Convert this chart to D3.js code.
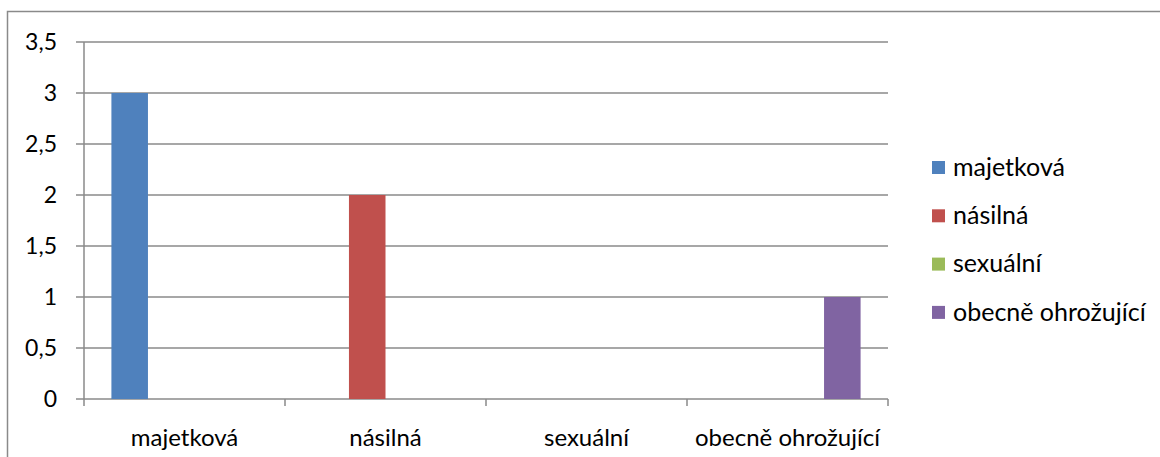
<!DOCTYPE html>
<html>
<head>
<meta charset="utf-8">
<script src="https://cdn.jsdelivr.net/npm/d3@7"></script>
<style>
  html, body { margin: 0; padding: 0; background: #fff; }
  svg { display: block; }
  text { font-family: Lato, "Open Sans", sans-serif; fill: #000; }
</style>
</head>
<body>
<div id="chart"></div>
<script>
// categories on the x axis
const categories = ["majetková", "násilná", "sexuální", "obecně ohrožující"];
// one series per category, only the matching one has a value
const seriesNames = ["majetková", "násilná", "sexuální", "obecně ohrožující"];
const majetkova = [3, 0, 0, 0];
const nasilna = [0, 2, 0, 0];
const sexualni = [0, 0, 0, 0];
const obecne = [0, 0, 0, 1];
const yTicks = [0, 0.5, 1, 1.5, 2, 2.5, 3, 3.5];
const colors = ["#4F81BD", "#C0504D", "#9BBB59", "#8064A2"];

const seriesValues = [majetkova, nasilna, sexualni, obecne];

const width = 1160;
const height = 457;
const margin = { top: 42, right: 272, bottom: 58, left: 84 };
const gridColor = "#8a8a8a";

const svg = d3.select("#chart")
  .append("svg")
  .attr("width", width)
  .attr("height", height);

// outer chart border (right and bottom edges fall outside the picture)
svg.append("rect")
  .attr("x", 7.5)
  .attr("y", 11.5)
  .attr("width", width + 20)
  .attr("height", height + 20)
  .attr("fill", "none")
  .attr("stroke", gridColor)
  .attr("stroke-width", 1.5);

const x0 = d3.scaleBand()
  .domain(categories)
  .range([margin.left, width - margin.right])
  .paddingInner(0)
  .paddingOuter(0);

// Excel style gap width 150%: 0.75 of a bar on each side
const x1 = d3.scaleBand()
  .domain(seriesNames)
  .range([0, x0.bandwidth()])
  .paddingInner(0)
  .paddingOuter(0.75);

const y = d3.scaleLinear()
  .domain([0, 3.5])
  .range([height - margin.bottom, margin.top]);

const fmt = d => String(d).replace(".", ",");

// gridlines
svg.append("g")
  .selectAll("line")
  .data(yTicks)
  .join("line")
  .attr("x1", margin.left - 8)
  .attr("x2", width - margin.right)
  .attr("y1", d => y(d))
  .attr("y2", d => y(d))
  .attr("stroke", gridColor)
  .attr("stroke-width", 1.5);

// y axis line
svg.append("line")
  .attr("x1", margin.left)
  .attr("x2", margin.left)
  .attr("y1", y(3.5))
  .attr("y2", y(0) + 7)
  .attr("stroke", gridColor)
  .attr("stroke-width", 1.5);

// y tick labels
svg.append("g")
  .selectAll("text")
  .data(yTicks)
  .join("text")
  .attr("x", margin.left - 27)
  .attr("y", d => y(d))
  .attr("dy", "0.35em")
  .attr("text-anchor", "end")
  .style("font-size", "23px")
  .text(fmt);

// category tick marks
svg.append("g")
  .selectAll("line")
  .data(categories.slice(1).concat(["end"]))
  .join("line")
  .attr("x1", (d, i) => x0(categories[0]) + x0.step() * (i + 1))
  .attr("x2", (d, i) => x0(categories[0]) + x0.step() * (i + 1))
  .attr("y1", y(0))
  .attr("y2", y(0) + 7)
  .attr("stroke", gridColor)
  .attr("stroke-width", 1.5);

// bars
const groups = svg.append("g")
  .selectAll("g")
  .data(categories)
  .join("g")
  .attr("transform", d => `translate(${x0(d)},0)`);

groups.selectAll("rect")
  .data((d, ci) => seriesNames.map((s, si) => ({ s, si, v: seriesValues[si][ci] })))
  .join("rect")
  .attr("x", d => x1(d.s))
  .attr("width", x1.bandwidth())
  .attr("y", d => y(d.v))
  .attr("height", d => y(0) - y(d.v))
  .attr("fill", d => colors[d.si]);

// x labels
svg.append("g")
  .selectAll("text")
  .data(categories)
  .join("text")
  .attr("x", d => x0(d) + x0.bandwidth() / 2)
  .attr("y", 438)
  .attr("dy", "0.35em")
  .attr("text-anchor", "middle")
  .style("font-size", "24px")
  .text(d => d);

// legend
const legend = svg.append("g")
  .selectAll("g")
  .data(seriesNames)
  .join("g")
  .attr("transform", (d, i) => `translate(932,${167 + i * 48.3})`);

legend.append("rect")
  .attr("x", 0)
  .attr("y", -6)
  .attr("width", 13)
  .attr("height", 13)
  .attr("fill", (d, i) => colors[i]);

legend.append("text")
  .attr("x", 21)
  .attr("y", 0)
  .attr("dy", "0.35em")
  .style("font-size", "25px")
  .text(d => d);
</script>
</body>
</html>
